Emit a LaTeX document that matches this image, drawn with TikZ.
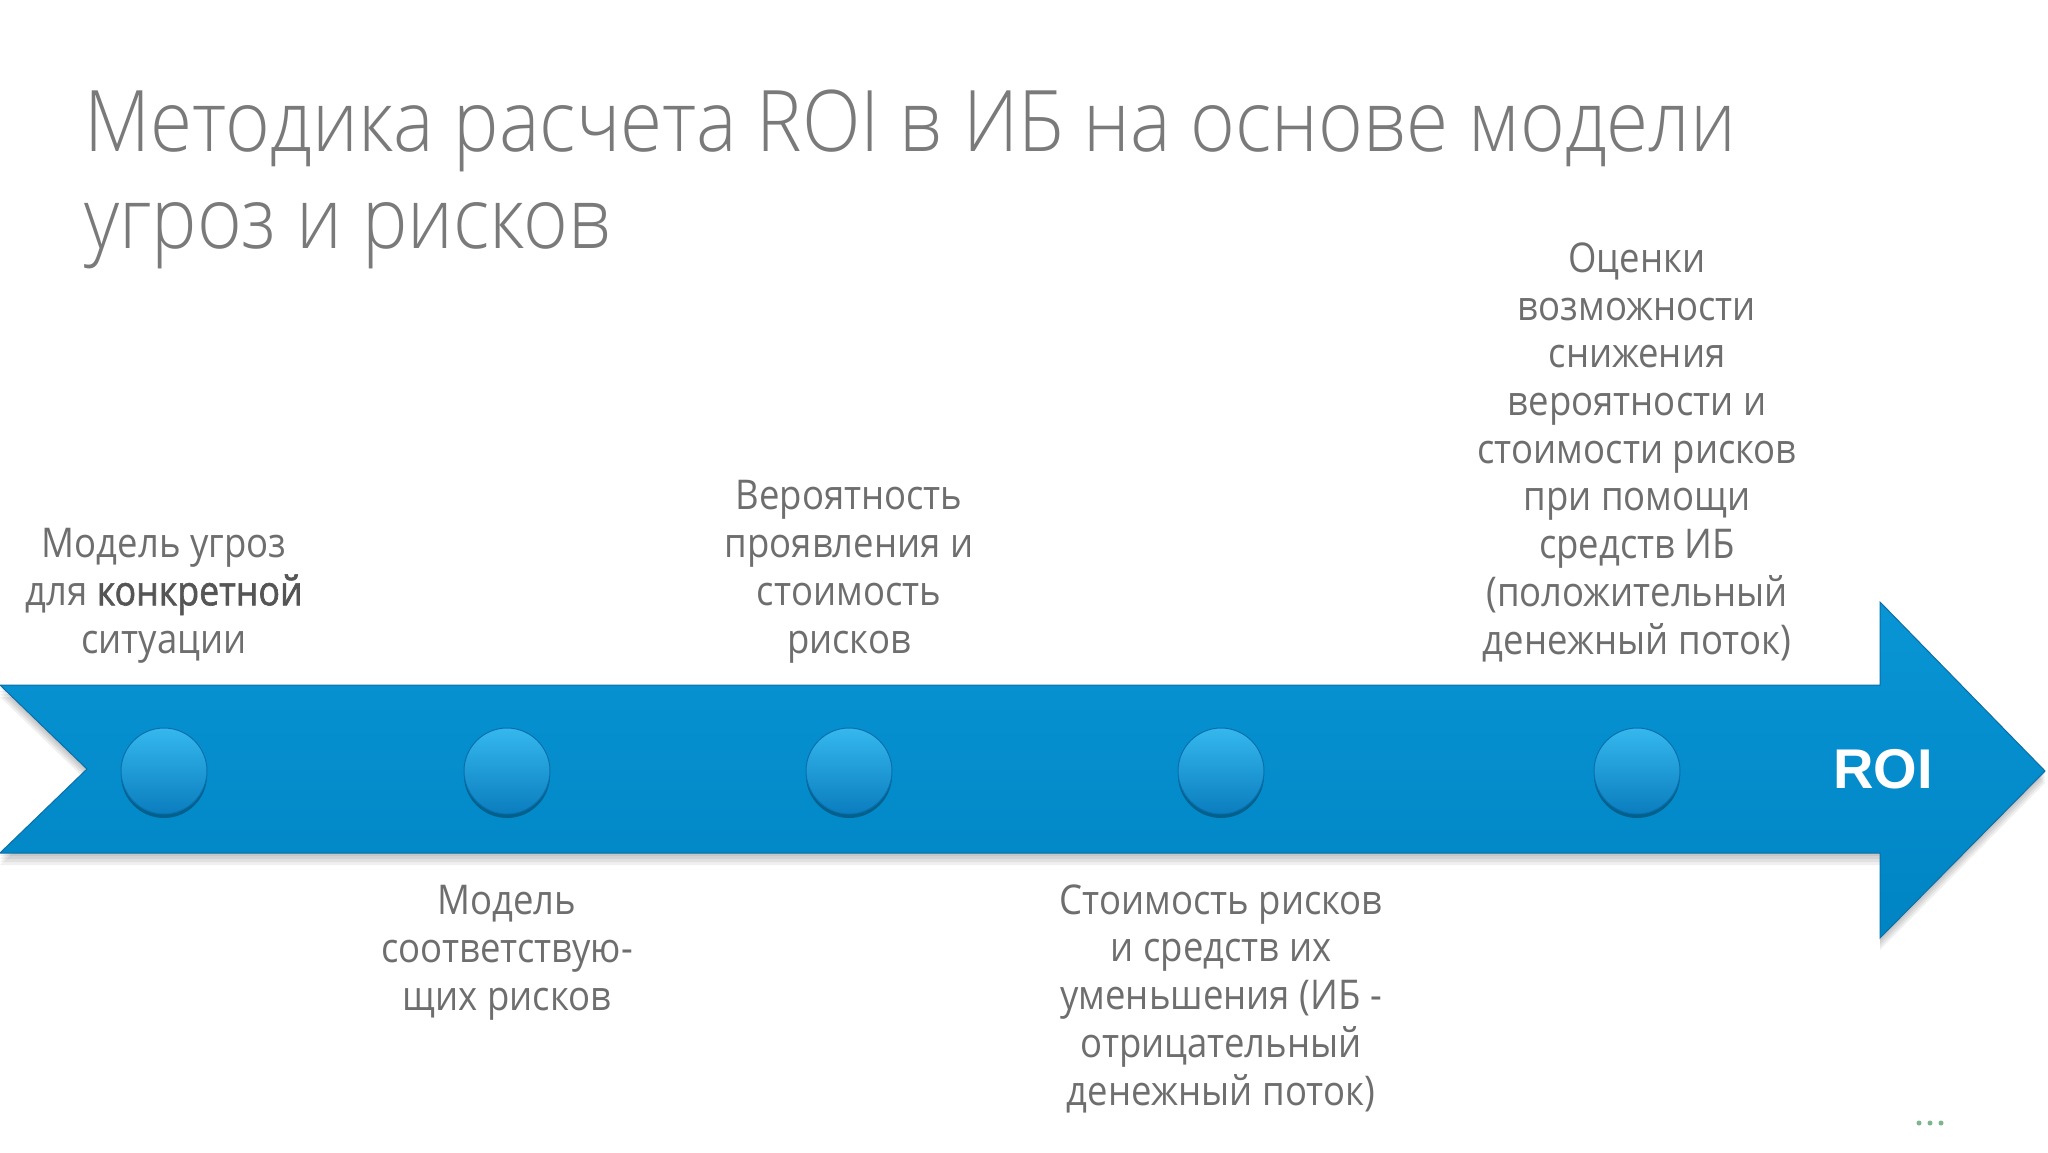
\documentclass[tikz,border=0pt]{standalone}
\usepackage{fontspec}
\setmainfont{Open Sans}[FakeStretch=0.89]
\IfFontExistsTF{Open Sans Light}
	{\newfontfamily\titlefont{Open Sans Light}[FakeStretch=0.9]}
	{\newfontfamily\titlefont{Open Sans}[FakeStretch=0.87]}
\IfFontExistsTF{Open Sans SemiBold}
	{\newfontfamily\semifont{Open Sans SemiBold}[FakeStretch=0.89]}
	{\newfontfamily\semifont{Open Sans}[FakeStretch=0.87, FakeBold=1.5]}
\newfontfamily\roifont{Liberation Sans}
\usetikzlibrary{shadows}
\definecolor{arrowtop}{HTML}{0995D5}
\definecolor{arrowbot}{HTML}{0084C3}
\definecolor{arrowedge}{HTML}{0A6FA8}
\definecolor{dottop}{HTML}{35B8EE}
\definecolor{dotbot}{HTML}{0A7DBE}
\definecolor{dotrim}{HTML}{0870AE}
\definecolor{labelgray}{HTML}{6E6E6E}
\definecolor{boldgray}{HTML}{555555}
\definecolor{titlegray}{HTML}{7A7A7A}
\definecolor{dotgreen}{HTML}{7DB58C}

\begin{document}
\begin{tikzpicture}[x=1pt, y=-1pt,
    lbl/.style={align=center, text=labelgray, font=\fontsize{41}{47.7}\selectfont, inner sep=0pt, anchor=base},
    titleline/.style={anchor=base west, inner sep=0pt, text=titlegray, font=\titlefont\fontsize{85}{97}\selectfont},
    stepdot/.style={circle, minimum size=86pt, inner sep=0pt, top color=dottop, bottom color=dotbot,
        draw=dotrim, line width=1pt, drop shadow={shadow xshift=0pt, shadow yshift=-4pt, opacity=0.3, fill=black}}]
		%%%%% START %%%%%
		
		\useasboundingbox[fill=white] (0, 0) rectangle (2048, 1152);
		
		% title
		\node[titleline] (title1) at (84, 151) {Методика расчета ROI в ИБ на основе модели};
		\node[titleline] (title2) at (84, 248) {угроз и рисков};
		
		% arrow shadow
		\foreach \d in {3, 6, 9, 12}
			\fill[black, opacity=0.06] (0, 685+\d) -- (1880, 685+\d) -- (1880, 602+\d) -- (2045, 771+\d) -- (1880, 938+\d) -- (1880, 853+\d) -- (0, 853+\d) -- (87, 769+\d) -- cycle;
		
		% arrow
		\draw[arrowedge, line width=1pt, top color=arrowtop, bottom color=arrowbot]
			(0, 685) -- (1880, 685) -- (1880, 602) -- (2045, 771) -- (1880, 938) -- (1880, 853) -- (0, 853) -- (87, 769) -- cycle;
		
		% steps
		\node[stepdot] (dot1) at (164, 771) {};
		\node[stepdot] (dot2) at (507, 771) {};
		\node[stepdot] (dot3) at (849, 771) {};
		\node[stepdot] (dot4) at (1221, 771) {};
		\node[stepdot] (dot5) at (1637, 771) {};
		
		\node[text=white, font=\roifont\bfseries\fontsize{56}{64}\selectfont, inner sep=0pt] (roi) at (1883, 769) {ROI};
		
		% labels above (anchor base = last line)
		\node[lbl] (lab1) at (164, 653) {Модель угроз\\для {\color{boldgray}\semifont конкретной}\\ситуации};
		\node[lbl] (lab3) at (849, 653) {Вероятность\\проявления и\\стоимость\\рисков};
		\node[lbl] (lab5) at (1637, 654) {Оценки\\возможности\\снижения\\вероятности и\\стоимости рисков\\при помощи\\средств ИБ\\(положительный\\денежный поток)};
		
		% labels below
		\node[lbl] (lab2) at (507, 1010) {Модель\\соответствую-\\щих рисков};
		\node[lbl] (lab4) at (1221, 1105) {Стоимость рисков\\и средств их\\уменьшения (ИБ -\\отрицательный\\денежный поток)};
		
		% slide marker
		\foreach \i/\x in {1/1919, 2/1930, 3/1941}
			\fill[dotgreen] (\x, 1123) circle (2.5) coordinate (mark\i);
		
		%%%%% END %%%%%
\end{tikzpicture}
\end{document}
